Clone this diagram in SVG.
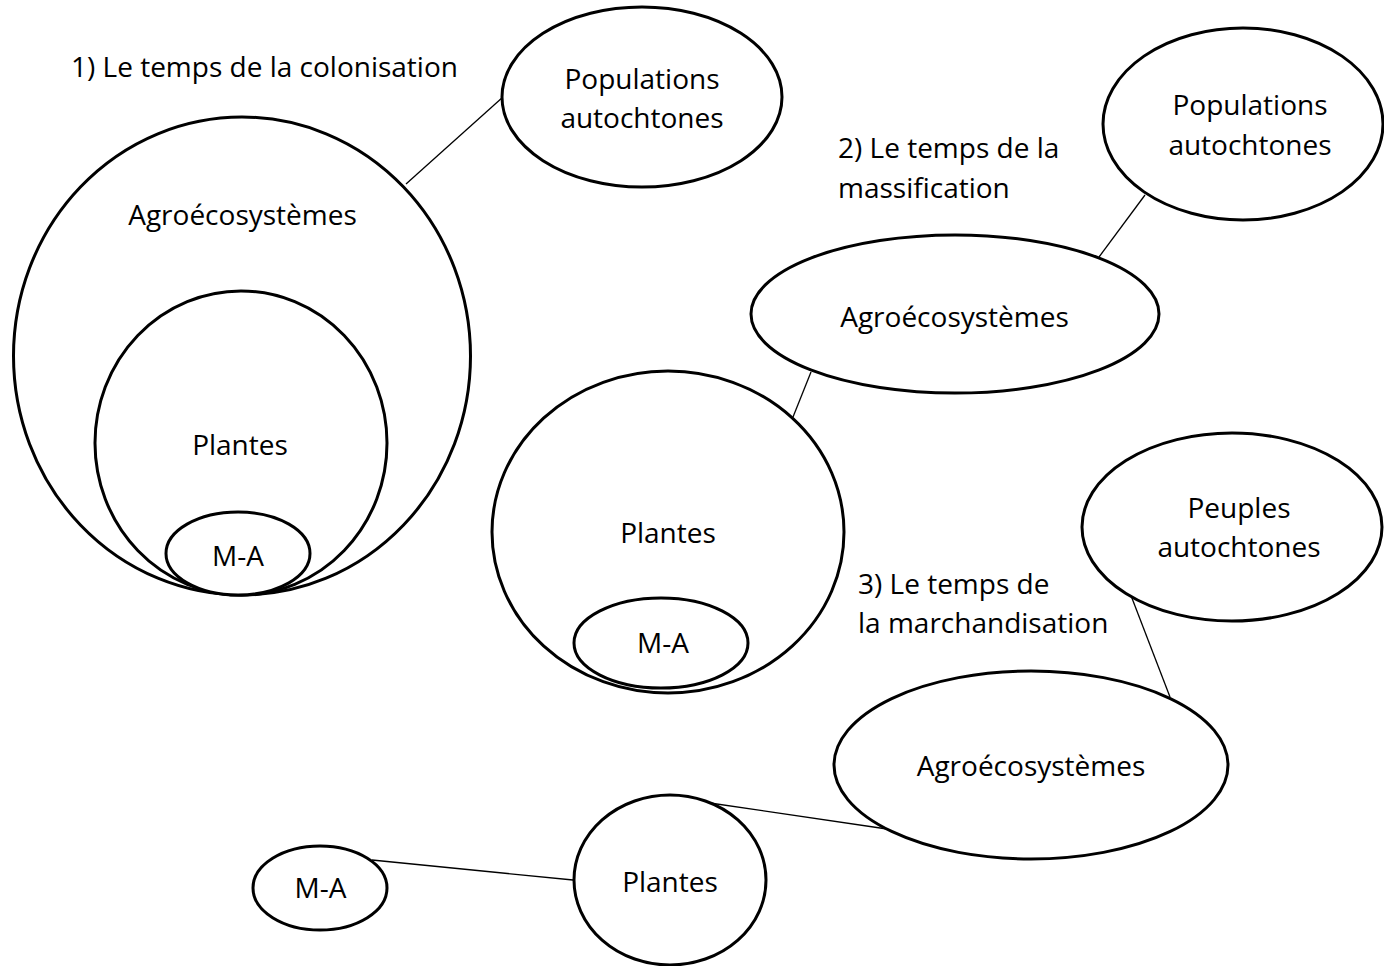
<svg xmlns="http://www.w3.org/2000/svg" width="1384" height="966" viewBox="0 0 1384 966">
<style>
.n{fill:#fff;stroke:#000;stroke-width:3}
.t{font-family:"Open Sans","Noto Sans",sans-serif;font-size:28px;fill:#000}
.c{text-anchor:middle}
.l{stroke:#000;stroke-width:1.3;fill:none}
</style>
<rect width="1384" height="966" fill="#fff"/>
<g id="connectors">
<line class="l" x1="406" y1="184" x2="503" y2="97"/>
<line class="l" x1="1099" y1="257" x2="1145" y2="195"/>
<line class="l" x1="811" y1="372" x2="793" y2="417"/>
<line class="l" x1="1130" y1="593" x2="1170" y2="697"/>
<line class="l" x1="710" y1="803" x2="887" y2="829"/>
<line class="l" x1="372" y1="860" x2="573" y2="880"/>
</g>
<g id="title1"><text class="t" x="71" y="77">1) Le temps de la colonisation</text></g>
<g id="agro1"><ellipse class="n" cx="242" cy="356" rx="228.5" ry="239"/><text class="t c" x="242.5" y="225">Agroécosystèmes</text></g>
<g id="plantes1"><ellipse class="n" cx="241" cy="443" rx="146" ry="152"/><text class="t c" x="240" y="455">Plantes</text></g>
<g id="ma1"><ellipse class="n" cx="238" cy="553.5" rx="72" ry="41.5"/><text class="t c" x="238" y="566">M-A</text></g>
<g id="pop1"><ellipse class="n" cx="642" cy="97" rx="140" ry="90"/><text class="t c" x="642" y="89">Populations</text><text class="t c" x="642" y="128">autochtones</text></g>
<g id="title2"><text class="t" x="838" y="158">2) Le temps de la</text><text class="t" x="838" y="198">massification</text></g>
<g id="pop2"><ellipse class="n" cx="1243" cy="124" rx="140" ry="96"/><text class="t c" x="1250" y="115">Populations</text><text class="t c" x="1250" y="155">autochtones</text></g>
<g id="agro2"><ellipse class="n" cx="955" cy="314" rx="204" ry="79"/><text class="t c" x="954.5" y="327">Agroécosystèmes</text></g>
<g id="plantes2"><ellipse class="n" cx="668" cy="532" rx="176" ry="161"/><text class="t c" x="668" y="543">Plantes</text></g>
<g id="ma2"><ellipse class="n" cx="661" cy="643" rx="87" ry="45"/><text class="t c" x="663" y="653">M-A</text></g>
<g id="title3"><text class="t" x="858" y="594">3) Le temps de</text><text class="t" x="858" y="633">la marchandisation</text></g>
<g id="peuples"><ellipse class="n" cx="1232" cy="527" rx="150" ry="94"/><text class="t c" x="1239" y="518">Peuples</text><text class="t c" x="1239" y="557">autochtones</text></g>
<g id="agro3"><ellipse class="n" cx="1031" cy="765" rx="197" ry="94"/><text class="t c" x="1031" y="776">Agroécosystèmes</text></g>
<g id="plantes3"><ellipse class="n" cx="670" cy="880" rx="96" ry="85"/><text class="t c" x="670" y="892">Plantes</text></g>
<g id="ma3"><ellipse class="n" cx="320" cy="888" rx="67" ry="42"/><text class="t c" x="320.5" y="898">M-A</text></g>
</svg>
